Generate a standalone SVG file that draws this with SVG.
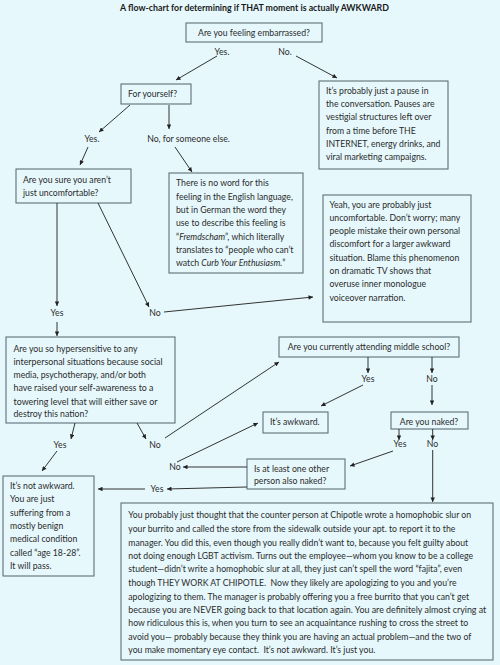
<svg xmlns="http://www.w3.org/2000/svg" width="500" height="665" viewBox="0 0 500 665">
<style>
.bg{fill:#e6f8fc}
.box{fill:#e6f8fc;stroke:#5d7075;stroke-width:1.1}
text{font-family:Lato,"Liberation Sans",sans-serif;font-size:8.7px;fill:#2b2b2b}
.t{font-weight:bold;font-size:8.8px;fill:#1a1a1a}
.c{text-anchor:middle}
.it{font-style:italic}
.ln{stroke:#333;stroke-width:1;fill:none;marker-end:url(#ah)}
</style>
<defs>
<marker id="ah" viewBox="0 0 10 10" refX="10" refY="5" markerWidth="5" markerHeight="4.5" markerUnits="userSpaceOnUse" orient="auto">
<path d="M0,0 L10,5 L0,10 z" fill="#222"/>
</marker>
</defs>
<rect class="bg" x="0" y="0" width="500" height="665"/>
<text class="t c" x="254.5" y="11">A flow-chart for determining if THAT moment is actually AWKWARD</text>

<g id="embarrassed">
<rect class="box" x="186" y="23" width="136" height="19"/>
<text class="c" x="254" y="36">Are you feeling embarrassed?</text>
</g>
<g id="pause">
<rect class="box" x="319" y="81" width="129" height="88"/>
<text x="326" y="94">It’s probably just a pause in</text>
<text x="326" y="107">the conversation. Pauses are</text>
<text x="326" y="120">vestigial structures left over</text>
<text x="326" y="133.5">from a time before THE</text>
<text x="326" y="146.5">INTERNET, energy drinks, and</text>
<text x="326" y="160">viral marketing campaigns.</text>
</g>
<g id="yourself">
<rect class="box" x="121" y="84" width="70" height="20"/>
<text x="128" y="97">For yourself?</text>
</g>
<g id="sure">
<rect class="box" x="16" y="169" width="115" height="34"/>
<text x="23" y="183">Are you sure you aren’t</text>
<text x="23" y="196.3">just uncomfortable?</text>
</g>
<g id="german">
<rect class="box" x="169" y="173" width="134" height="100"/>
<text x="176" y="186">There is no word for this</text>
<text x="176" y="199.7">feeling in the English language,</text>
<text x="176" y="213">but in German the word they</text>
<text x="176" y="226.3">use to describe this feeling is</text>
<text x="176" y="239.7">“<tspan class="it">Fremdscham</tspan>”, which literally</text>
<text x="176" y="253">translates to “people who can’t</text>
<text x="176" y="266.3">watch <tspan class="it">Curb Your Enthusiasm.</tspan>”</text>
</g>
<g id="yeah">
<rect class="box" x="323" y="195" width="148" height="127"/>
<text x="329.5" y="208">Yeah, you are probably just</text>
<text x="329.5" y="220.7">uncomfortable. Don’t worry; many</text>
<text x="329.5" y="234">people mistake their own personal</text>
<text x="329.5" y="247.3">discomfort for a larger awkward</text>
<text x="329.5" y="260.7">situation. Blame this phenomenon</text>
<text x="329.5" y="274">on dramatic TV shows that</text>
<text x="329.5" y="287.3">overuse inner monologue</text>
<text x="329.5" y="300.7">voiceover narration.</text>
</g>
<g id="hyper">
<rect class="box" x="6" y="337" width="169" height="86"/>
<text x="13.5" y="351.7">Are you so hypersensitive to any</text>
<text x="13.5" y="365" textLength="149" lengthAdjust="spacingAndGlyphs">interpersonal situations because social</text>
<text x="13.5" y="378.3">media, psychotherapy, and/or both</text>
<text x="13.5" y="391.3" textLength="140" lengthAdjust="spacingAndGlyphs">have raised your self-awareness to a</text>
<text x="13.5" y="404.7" textLength="144" lengthAdjust="spacingAndGlyphs">towering level that will either save or</text>
<text x="13.5" y="417.3">destroy this nation?</text>
</g>
<g id="middle">
<rect class="box" x="279" y="337" width="180" height="20"/>
<text class="c" x="369" y="350.3">Are you currently attending middle school?</text>
</g>
<g id="awkward">
<rect class="box" x="263" y="412" width="65" height="21"/>
<text x="270" y="425.3">It’s awkward.</text>
</g>
<g id="naked">
<rect class="box" x="391" y="412" width="77" height="17"/>
<text class="c" x="429" y="425">Are you naked?</text>
</g>
<g id="other">
<rect class="box" x="247" y="459" width="98" height="30"/>
<text x="254" y="472">Is at least one other</text>
<text x="254" y="484">person also naked?</text>
</g>
<g id="notawkward">
<rect class="box" x="3" y="476" width="91" height="100"/>
<text x="10" y="488.7">It’s not awkward.</text>
<text x="10" y="502.3">You are just</text>
<text x="10" y="515.7">suffering from a</text>
<text x="10" y="529">mostly benign</text>
<text x="10" y="542.3">medical condition</text>
<text x="10" y="555.7">called “age 18-28”.</text>
<text x="10" y="569">It will pass.</text>
</g>
<g id="chipotle">
<rect class="box" x="121" y="503" width="372" height="157"/>
<text x="128.3" y="518.3">You probably just thought that the counter person at Chipotle wrote a homophobic slur on</text>
<text x="128.3" y="532.3">your burrito and called the store from the sidewalk outside your apt. to report it to the</text>
<text x="128.3" y="545.7">manager. You did this, even though you really didn’t want to, because you felt guilty about</text>
<text x="128.3" y="559">not doing enough LGBT activism. Turns out the employee—whom you know to be a college</text>
<text x="128.3" y="572.3">student—didn’t write a homophobic slur at all, they just can’t spell the word “fajita”, even</text>
<text x="128.3" y="585.7" xml:space="preserve">though THEY WORK AT CHIPOTLE.  Now they likely are apologizing to you and you’re</text>
<text x="128.3" y="599.7">apologizing to them. The manager is probably offering you a free burrito that you can’t get</text>
<text x="128.3" y="613" textLength="358" lengthAdjust="spacingAndGlyphs">because you are NEVER going back to that location again. You are definitely almost crying at</text>
<text x="128.3" y="626.3">how ridiculous this is, when you turn to see an acquaintance rushing to cross the street to</text>
<text x="128.3" y="639.7">avoid you— probably because they think you are having an actual problem—and the two of</text>
<text x="128.3" y="653" xml:space="preserve">you make momentary eye contact.  It’s not awkward. It’s just you.</text>
</g>

<g id="labels">
<text class="c" x="222" y="55">Yes.</text>
<text class="c" x="285" y="55">No.</text>
<text class="c" x="92" y="142">Yes.</text>
<text class="c" x="188.5" y="142">No, for someone else.</text>
<text class="c" x="57" y="316">Yes</text>
<text class="c" x="155" y="316">No</text>
<text class="c" x="60" y="448">Yes</text>
<text class="c" x="155" y="448">No</text>
<text class="c" x="368" y="382">Yes</text>
<text class="c" x="432" y="382">No</text>
<text class="c" x="400" y="447">Yes</text>
<text class="c" x="432.5" y="447">No</text>
<text class="c" x="175" y="470">No</text>
<text class="c" x="157" y="492">Yes</text>
</g>

<g id="connectors">
<line class="ln" x1="217" y1="56" x2="176" y2="80"/>
<line class="ln" x1="296" y1="56" x2="337" y2="78"/>
<line class="ln" x1="130" y1="105" x2="99" y2="132"/>
<line class="ln" x1="169" y1="105" x2="169" y2="129"/>
<line class="ln" x1="88" y1="147" x2="80" y2="165"/>
<line class="ln" x1="175" y1="147" x2="192" y2="172"/>
<line class="ln" x1="57" y1="203" x2="57" y2="306"/>
<line class="ln" x1="98" y1="203" x2="149" y2="307"/>
<line class="ln" x1="164" y1="312" x2="313" y2="297"/>
<line class="ln" x1="57" y1="322" x2="57" y2="336"/>
<line class="ln" x1="75" y1="423" x2="71" y2="439"/>
<line class="ln" x1="137" y1="423" x2="146" y2="439"/>
<line class="ln" x1="57" y1="451" x2="42" y2="471"/>
<line class="ln" x1="165" y1="438" x2="279" y2="362"/>
<line class="ln" x1="368" y1="357" x2="368" y2="373"/>
<line class="ln" x1="432" y1="357" x2="432" y2="373"/>
<line class="ln" x1="363" y1="385" x2="321" y2="406"/>
<line class="ln" x1="432" y1="385" x2="432" y2="405"/>
<line class="ln" x1="399" y1="429" x2="399" y2="440"/>
<line class="ln" x1="432.7" y1="429" x2="432.7" y2="440"/>
<line class="ln" x1="432.7" y1="450" x2="432.7" y2="502"/>
<line class="ln" x1="393" y1="451" x2="350" y2="466"/>
<line class="ln" x1="247" y1="467" x2="183" y2="467"/>
<line class="ln" x1="177" y1="462" x2="258" y2="423"/>
<line class="ln" x1="247" y1="487" x2="167" y2="489"/>
<line class="ln" x1="145" y1="489" x2="98" y2="489"/>
</g>
</svg>
